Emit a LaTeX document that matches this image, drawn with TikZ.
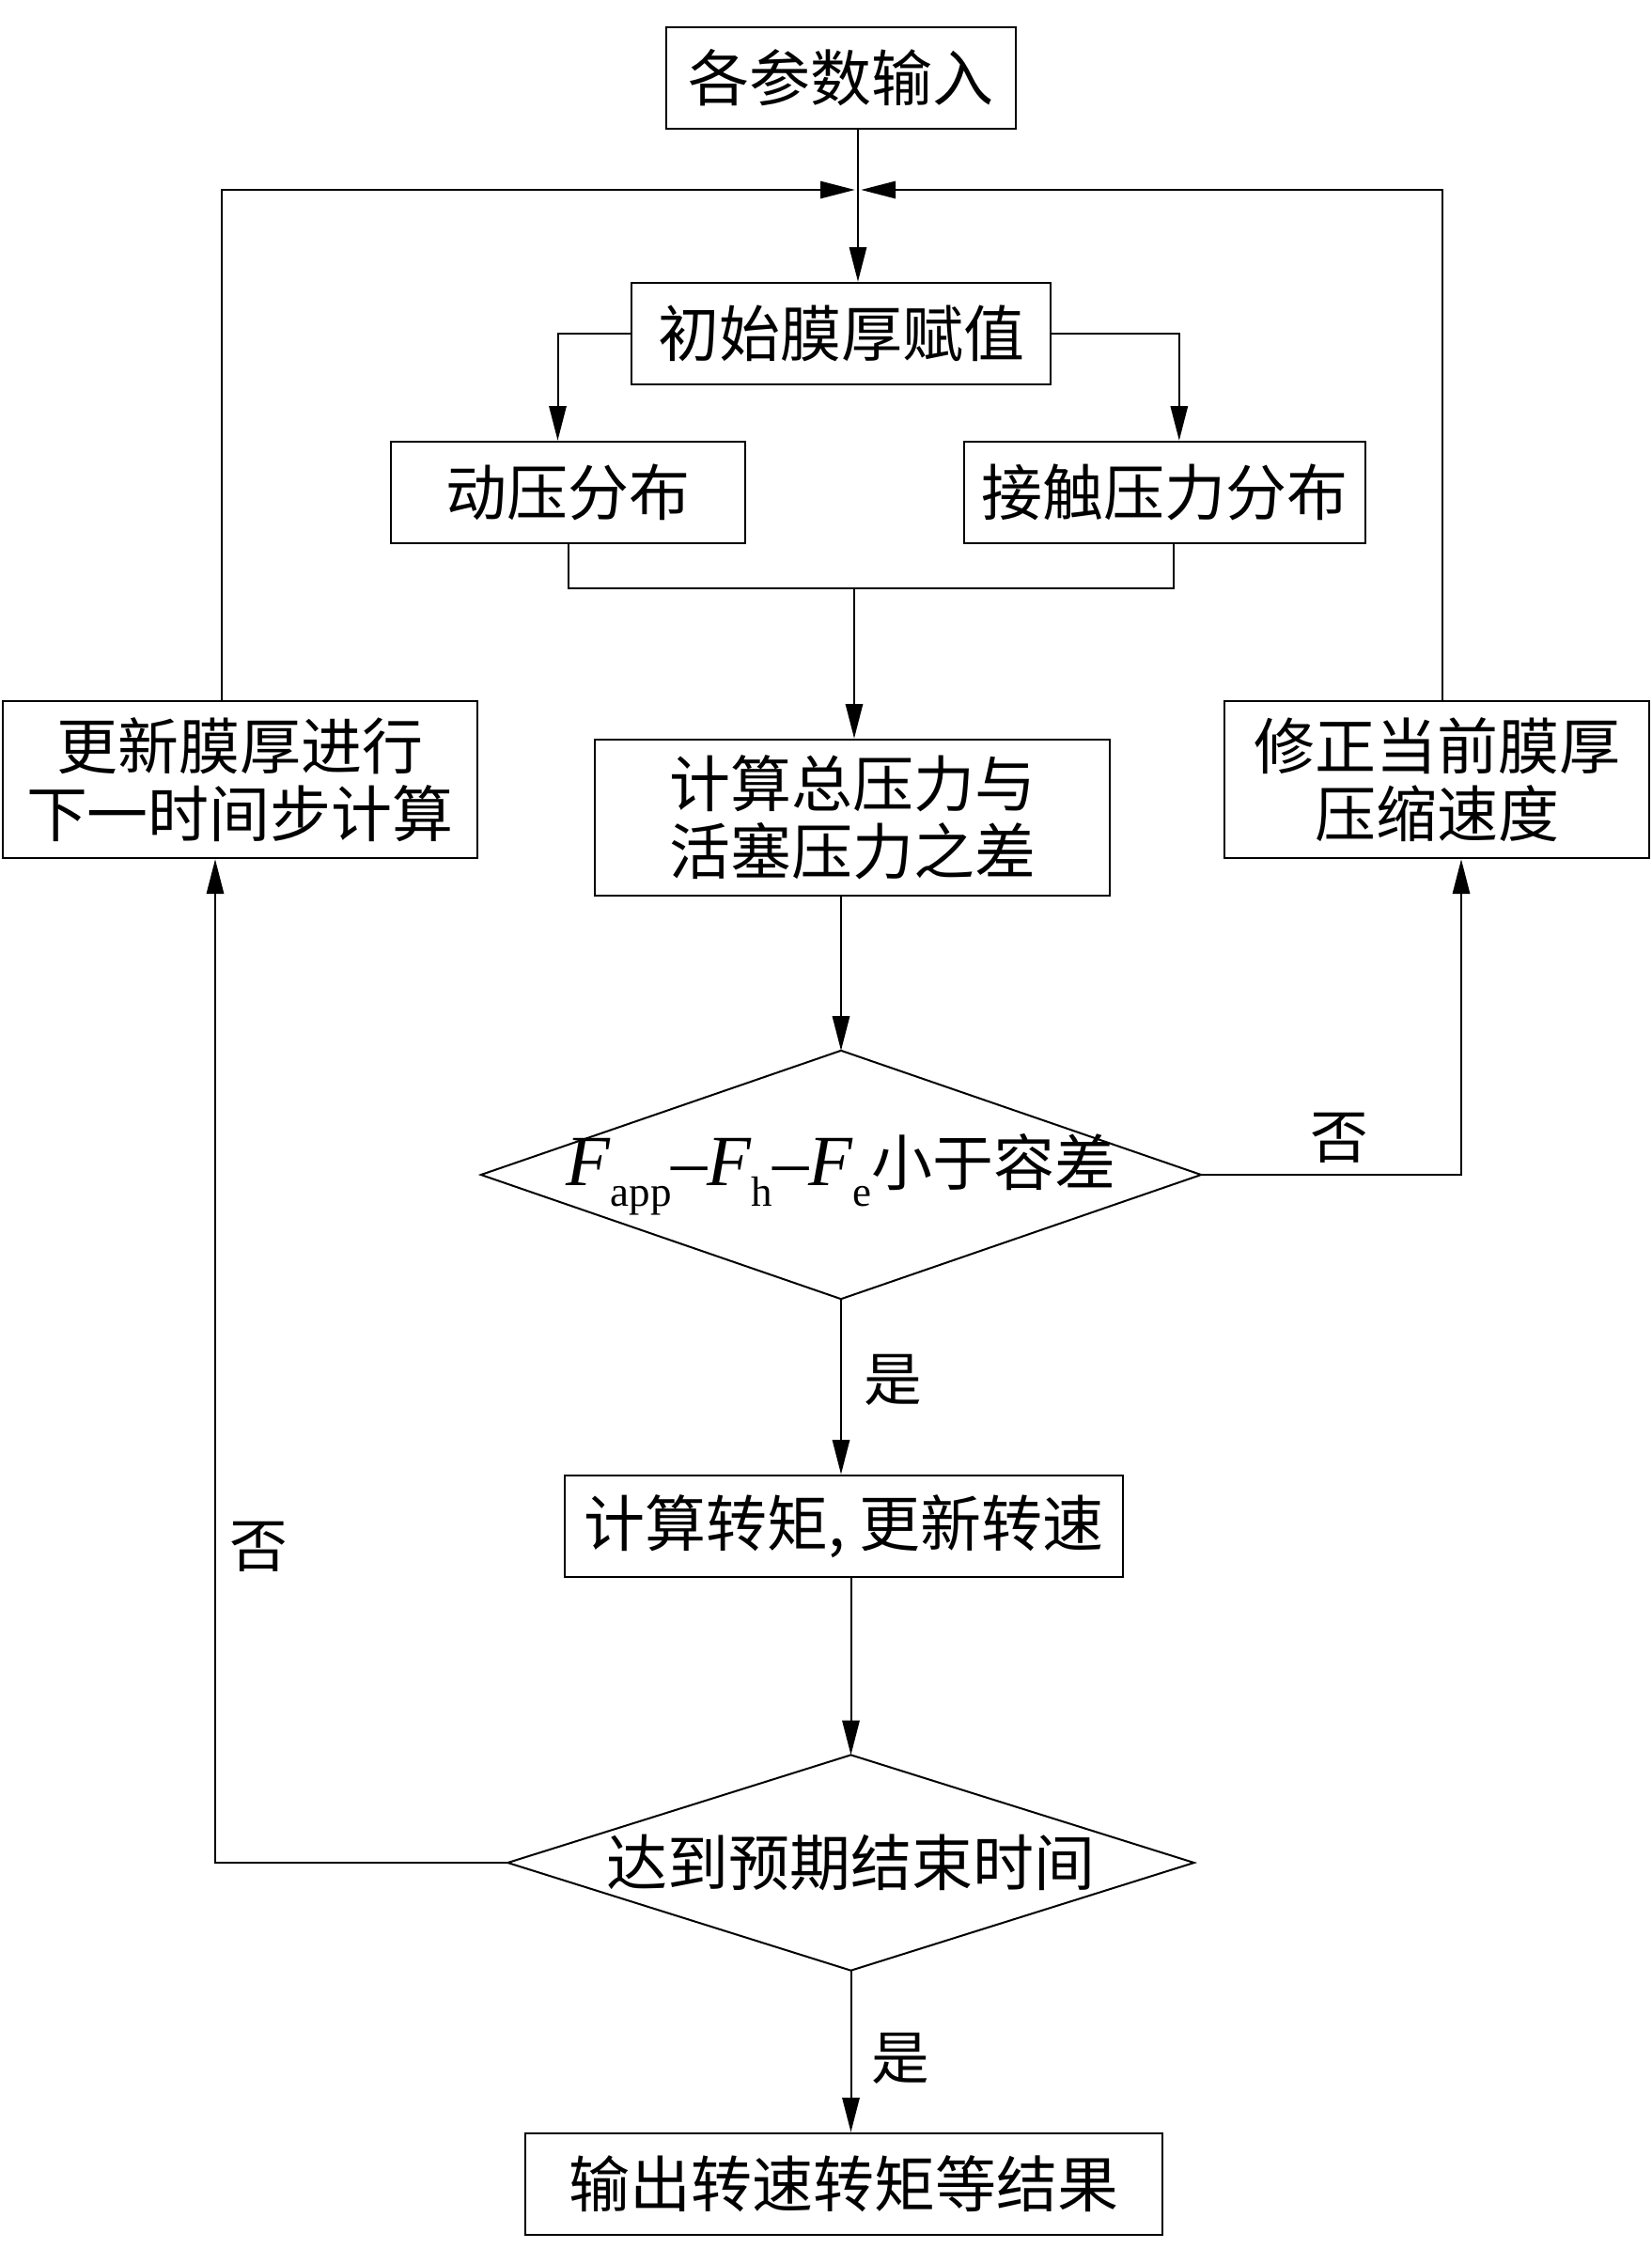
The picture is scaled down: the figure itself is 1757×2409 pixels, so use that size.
\documentclass[tikz,border=0pt]{standalone}
\usepackage{fontspec}
\setmainfont{Noto Sans CJK SC}
\newfontfamily\latinserif{Liberation Serif}
\usetikzlibrary{arrows.meta}
\begin{document}
\begin{tikzpicture}[x=0.3pt,y=-0.3pt,
  box/.style={draw, line width=0.8pt, inner sep=0pt, align=center,
    font=\fontsize{19.5}{21.6}\selectfont},
  arr/.style={-{Triangle[length=11pt,width=5.5pt]}, line width=0.6pt},
  ln/.style={line width=0.6pt},
  lbl/.style={font=\fontsize{18.5}{20}\selectfont, inner sep=0pt},
  dtext/.style={inner sep=0pt, align=center, font=\fontsize{19.5}{21.6}\selectfont}]

\useasboundingbox (0,0) rectangle (1757,2409);

% nodes
\node[box, minimum width=111.6pt, minimum height=32.4pt] (inp) at (895,83) {各参数输入};
\node[box, minimum width=133.8pt, minimum height=32.4pt] (init) at (895,355) {初始膜厚赋值};
\node[box, minimum width=113.1pt, minimum height=32.4pt] (dyn) at (604.5,524) {动压分布};
\node[box, minimum width=128.1pt, minimum height=32.4pt] (cont) at (1239.5,524) {接触压力分布};
\node[box, minimum width=164.4pt, minimum height=49.8pt] (calc) at (907,870) {计算总压力与\\活塞压力之差};
\node[box, minimum width=151.5pt, minimum height=50.1pt] (upd) at (255.5,829.5) {更新膜厚进行\\下一时间步计算};
\node[box, minimum width=135.6pt, minimum height=50.1pt] (corr) at (1529,829.5) {修正当前膜厚\\压缩速度};
\node[dtext, minimum width=229.5pt, minimum height=78.9pt] (d1) at (895,1250)
  {{\latinserif\fontsize{23}{23}\selectfont\itshape F}\raisebox{-6.5pt}{\latinserif\fontsize{13.5}{13.5}\selectfont app}{\latinserif\fontsize{23}{23}\selectfont –\itshape F}\raisebox{-6.5pt}{\latinserif\fontsize{13.5}{13.5}\selectfont h}{\latinserif\fontsize{23}{23}\selectfont –\itshape F}\raisebox{-6.5pt}{\latinserif\fontsize{13.5}{13.5}\selectfont e}小于容差};
\draw[ln] (d1.north) -- (d1.east) -- (d1.south) -- (d1.west) -- cycle;
\node[box, minimum width=178.2pt, minimum height=32.4pt] (conv) at (898,1624) {计算转矩, 更新转速};
\node[dtext, minimum width=218.7pt, minimum height=68.4pt] (d2) at (905.5,1982) {达到预期结束时间};
\draw[ln] (d2.north) -- (d2.east) -- (d2.south) -- (d2.west) -- cycle;
\node[box, minimum width=203.4pt, minimum height=32.4pt] (out) at (898,2324) {输出转速转矩等结果};

\coordinate (j) at (913,202);
\coordinate (m) at (909,626);

% connectors
\draw[arr] (j |- inp.south) -- (j |- init.north);
\draw[arr] (init.west) -| ([xshift=-3.3pt]dyn.north);
\draw[arr] (init.east) -| ([xshift=4.6pt]cont.north);
\draw[ln] (dyn.south) |- (m) -| ([xshift=2.8pt]cont.south);
\draw[arr] (m) -- (m |- calc.north);
\draw[arr] (d1.north |- calc.south) -- (d1.north);
\draw[arr] (d1.south) -- (d1.south |- conv.north);
\draw[arr] (d1.east) -| ([xshift=7.8pt]corr.south);
\draw[arr, shorten >=1pt] ([xshift=1.8pt]corr.north) |- (j);
\draw[arr, shorten >=1pt] ([xshift=-5.9pt]upd.north) |- (j);
\draw[arr] (d2.north |- conv.south) -- (d2.north);
\draw[arr] (d2.south) -- (d2.south |- out.north);
\draw[arr] (d2.west) -| ([xshift=-7.95pt]upd.south);

% labels
\node[lbl] (n1) at (1425,1211) {否};
\node[lbl] (y1) at (950,1468) {是};
\node[lbl] (n2) at (275,1646) {否};
\node[lbl] (y2) at (958,2190) {是};
\end{tikzpicture}
\end{document}
